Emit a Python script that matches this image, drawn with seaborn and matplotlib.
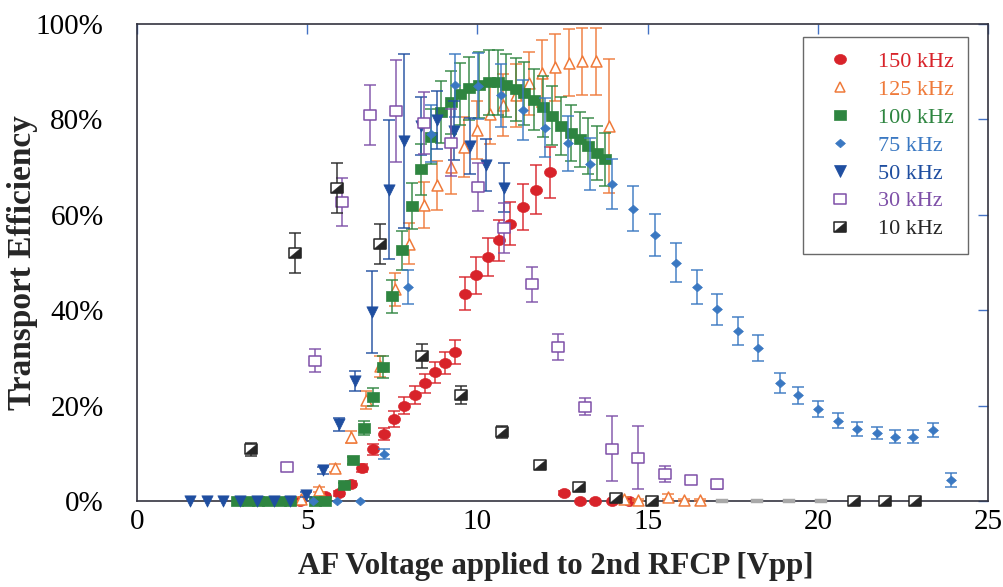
import matplotlib
matplotlib.use("Agg")
import matplotlib.pyplot as plt
import seaborn as sns
import numpy as np
from matplotlib.path import Path
from matplotlib.lines import Line2D

# ---------------- data ----------------
labels = ["150 kHz", "125 kHz", "100 kHz", "75 kHz", "50 kHz", "30 kHz", "10 kHz"]

x150 = [4.80, 5.53, 5.92, 6.28, 6.61, 6.93, 7.25, 7.55, 7.85, 8.16, 8.45, 8.75, 9.06, 9.35,
        9.65, 9.97, 10.30, 10.64, 10.97, 11.34, 11.72, 12.12, 12.54, 13.00, 13.45, 13.94, 14.45]
y150 = [0.0, 1.0, 1.6, 3.6, 6.9, 10.8, 14.0, 17.2, 20.0, 22.3, 24.7, 27.0, 28.9, 31.3,
        43.5, 47.3, 51.2, 54.7, 58.1, 61.6, 65.3, 68.9, 1.7, 0.0, 0.0, 0.0, 0.0]
e150 = [0.0, 0.4, 0.5, 0.6, 0.8, 1.2, 1.3, 1.6, 1.7, 1.9, 2.0, 2.2, 2.3, 2.5,
        3.4, 3.8, 4.0, 4.3, 4.5, 4.8, 5.1, 5.3, 0.5, 0.0, 0.0, 0.0, 0.0]

x125 = [4.81, 5.36, 5.82, 6.29, 6.74, 7.13, 7.59, 8.00, 8.42, 8.81, 9.23, 9.62, 9.99, 10.36,
        10.75, 11.14, 11.51, 11.90, 12.29, 12.69, 13.08, 13.47, 13.86, 14.30, 14.71, 15.60,
        16.07, 16.54]
y125 = [0.4, 2.4, 6.9, 13.4, 21.2, 28.2, 44.4, 53.9, 62.1, 66.2, 70.1, 74.3, 77.8, 81.1,
        83.0, 85.1, 87.6, 89.7, 90.9, 91.9, 92.2, 92.2, 78.6, 0.5, 0.2, 0.9, 0.2, 0.2]
e125 = [0.4, 0.6, 0.8, 1.3, 1.9, 2.3, 3.5, 4.3, 4.8, 5.1, 5.7, 6.3, 6.0, 6.2,
        6.5, 6.6, 6.6, 7.0, 7.0, 7.0, 7.0, 7.0, 14.0, 0.4, 0.3, 0.5, 0.3, 0.3]

x100 = [2.95, 3.25, 3.55, 3.85, 4.20, 4.50, 5.22, 5.52,
        6.07, 6.36, 6.66, 6.93, 7.22, 7.50, 7.78, 8.08, 8.35, 8.64, 8.93, 9.21, 9.48, 9.76,
        10.04, 10.33, 10.60, 10.85, 11.12, 11.38, 11.66, 11.93, 12.20, 12.46, 12.74, 13.00,
        13.26, 13.50, 13.76]
y100 = [0, 0, 0, 0, 0, 0, 0, 0,
        3.3, 8.5, 15.3, 21.8, 28.0, 42.9, 52.6, 61.8, 69.5, 76.4, 81.5, 83.6, 85.3, 86.5,
        87.2, 87.8, 87.8, 87.2, 86.3, 85.5, 84.1, 82.7, 80.8, 78.6, 77.1, 75.8,
        74.4, 73.0, 71.6]
e100 = [0, 0, 0, 0, 0, 0, 0, 0,
        0.5, 0.8, 1.5, 1.9, 2.3, 3.4, 4.1, 4.8, 5.4, 5.8, 6.5, 6.6, 6.5, 6.6,
        7.0, 6.8, 6.8, 6.6, 6.6, 6.6, 6.4, 6.3, 6.2, 6.1, 5.9, 5.8,
        5.8, 5.7, 5.6]

x75 = [5.17, 5.87, 6.56, 7.25, 7.96, 8.65, 9.33, 10.01, 10.68, 11.34, 12.00, 12.66, 13.30,
       13.96, 14.58, 15.21, 15.82, 16.44, 17.05, 17.66, 18.25, 18.88, 19.43, 20.02, 20.58,
       21.15, 21.73, 22.26, 22.81, 23.37, 23.91]
y75 = [0, 0, 0, 9.9, 44.9, 77.0, 87.2, 87.0, 85.1, 81.9, 78.3, 75.0, 70.6,
       66.4, 61.3, 55.8, 50.0, 44.9, 40.2, 35.6, 32.0, 24.8, 22.2, 19.3, 16.8,
       15.1, 14.3, 13.5, 13.5, 14.9, 4.4]
e75 = [0, 0, 0, 1.0, 3.6, 6.0, 6.6, 6.9, 6.6, 6.3, 6.1, 5.8, 5.4,
       5.2, 4.8, 4.4, 4.0, 3.6, 3.2, 2.9, 2.7, 2.1, 1.8, 1.6, 1.6,
       1.4, 1.3, 1.3, 1.3, 1.5, 1.5]

x50 = [1.56, 2.05, 2.54, 3.03, 3.52, 4.01, 4.49, 4.97, 5.45, 5.92, 6.40, 6.90, 7.39, 7.83,
       8.34, 8.81, 9.30, 9.79, 10.26, 10.77]
y50 = [0, 0, 0, 0, 0, 0, 0, 1.3, 6.4, 16.1, 25.2, 39.7, 65.3, 75.5,
       78.6, 79.9, 77.6, 74.4, 70.4, 65.7]
e50 = [0, 0, 0, 0, 0, 0, 0, 0.5, 0.8, 1.4, 2.1, 8.6, 14.5, 18.3,
       6.0, 6.1, 6.2, 5.8, 5.5, 5.1]

x30 = [4.40, 5.22, 6.02, 6.85, 7.62, 8.42, 9.21, 10.01, 10.79, 11.59, 12.37, 13.16, 13.96,
       14.72, 15.50, 16.28, 17.05]
y30 = [7.1, 29.4, 62.7, 80.9, 81.8, 79.3, 75.1, 65.8, 57.2, 45.4, 32.3, 19.8, 11.0,
       9.1, 5.7, 4.4, 3.5]
e30 = [0.4, 2.4, 5.0, 6.3, 10.7, 6.5, 7.0, 5.1, 5.2, 3.6, 2.7, 1.7, 6.8,
       6.6, 1.7, 0.3, 1.0]

x10 = [3.34, 4.63, 5.88, 7.13, 8.37, 9.53, 10.71, 11.83, 12.98, 14.06, 15.14,
       21.07, 21.97, 22.85]
y10 = [10.8, 51.9, 65.6, 53.9, 30.4, 22.2, 14.5, 7.5, 2.9, 0.7, 0,
       0, 0, 0]
e10 = [1.4, 4.2, 5.2, 4.2, 2.6, 1.9, 1.3, 0.0, 0.0, 0.0, 0,
       0, 0, 0]
# faint near-zero marks (grey) seen along the axis
x10_faint = [17.20, 18.20, 19.15, 20.10]
y10_faint = [0, 0, 0, 0]

x_ticks = [0, 5, 10, 15, 20, 25]
y_ticks = [0, 20, 40, 60, 80, 100]
y_tick_labels = ["0%", "20%", "40%", "60%", "80%", "100%"]

colors = ["#D8232A", "#EF7A3A", "#2E8540", "#3A78C2", "#1F4EA0", "#7E50A8", "#262626"]

# ---------------- marker shapes ----------------
t = np.linspace(0, 2 * np.pi, 41)
ellipse = Path(np.column_stack([1.2 * np.cos(t), np.sin(t)]), closed=True)
rect = Path([(-1.25, -1), (1.25, -1), (1.25, 1), (-1.25, 1), (-1.25, -1)], closed=True)
tri_lr = Path([(-1.25, -1), (1.25, -1), (1.25, 1), (-1.25, -1)], closed=True)
diamond = Path([(-1.15, 0), (0, 1), (1.15, 0), (0, -1), (-1.15, 0)], closed=True)
flat = Path([(-1, -0.3), (1, -0.3), (1, 0.3), (-1, 0.3), (-1, -0.3)], closed=True)

sns.set_theme(style="white")
plt.rcParams['font.family'] = ['Liberation Serif', 'DejaVu Serif']

fig = plt.figure(figsize=(10.04, 5.87), dpi=100)
ax = fig.add_axes([137 / 1004, 1 - 501 / 587, (988 - 137) / 1004, (501 - 24) / 587])

series = [
    (x150, y150, e150, dict(marker=ellipse, s=74, filled=True)),
    (x125, y125, e125, dict(marker="^", s=62, filled=False)),
    (x100, y100, e100, dict(marker=rect, s=74, filled=True)),
    (x75, y75, e75, dict(marker=diamond, s=50, filled=True)),
    (x50, y50, e50, dict(marker="v", s=66, filled=True)),
    (x30, y30, e30, dict(marker=rect, s=70, filled=False)),
    (x10, y10, e10, dict(marker=rect, s=70, filled=False)),
]

handles = []
for i, ((xs, ys, es, st), col, lab) in enumerate(zip(series, colors, labels)):
    z = 3 + i
    xs_a, ys_a, es_a = np.array(xs), np.array(ys), np.array(es)
    m = es_a > 0
    ax.errorbar(xs_a[m], ys_a[m], yerr=es_a[m], fmt="none", ecolor=col, alpha=0.85,
                elinewidth=1.2, capsize=4.3, capthick=1.2, zorder=z)
    if st["filled"]:
        sns.scatterplot(x=xs, y=ys, ax=ax, marker=st["marker"], s=st["s"], color=col,
                        edgecolor=col, linewidth=0.5, zorder=z + 0.5, clip_on=False)
        h = Line2D([], [], ls="none", marker=st["marker"], markersize=np.sqrt(st["s"]),
                   markerfacecolor=col, markeredgecolor=col, markeredgewidth=0.5)
    else:
        sns.scatterplot(x=xs, y=ys, ax=ax, marker=st["marker"], s=st["s"], color=col,
                        facecolor="white", edgecolor=col, linewidth=1.1,
                        zorder=z + 0.5, clip_on=False)
        h = Line2D([], [], ls="none", marker=st["marker"], markersize=np.sqrt(st["s"]),
                   markerfacecolor="white", markeredgecolor=col, markeredgewidth=1.1)
    if lab == "10 kHz":
        sns.scatterplot(x=xs, y=ys, ax=ax, marker=tri_lr, s=st["s"], color=col,
                        edgecolor=col, linewidth=0.3, zorder=z + 0.6, clip_on=False)
        sns.scatterplot(x=x10_faint, y=y10_faint, ax=ax, marker=flat, s=64, color="#A8A8A8",
                        edgecolor="#A8A8A8", linewidth=0.3, zorder=z, clip_on=False)
        h2 = Line2D([], [], ls="none", marker=tri_lr, markersize=np.sqrt(st["s"]),
                    markerfacecolor=col, markeredgecolor=col, markeredgewidth=0.3)
        h = (h, h2)
    handles.append(h)

ax.set_xlim(0, 25)
ax.set_ylim(0, 100)
ax.set_xticks(x_ticks)
ax.set_xticklabels([str(v) for v in x_ticks])
ax.set_yticks(y_ticks)
ax.set_yticklabels(y_tick_labels)

ax.tick_params(axis="both", direction="in", length=7.5, width=1.0, color="#4472C4",
               top=True, right=True, labelsize=21, labelcolor="black")
ax.tick_params(axis="y", pad=24)
ax.tick_params(axis="x", pad=6)

for sp in ax.spines.values():
    sp.set_color("#333340")
    sp.set_linewidth(1.2)
    sp.set_visible(True)

ax.set_xlabel("AF Voltage applied to 2nd RFCP [Vpp]", fontsize=22.2, fontweight="bold")
ax.set_ylabel("Transport Efficiency", fontsize=24, fontweight="bold")
ax.xaxis.label.set_va("center")
ax.yaxis.label.set_va("center")
ax.xaxis.set_label_coords(0.492, -0.138)
ax.yaxis.set_label_coords(-0.134, 0.5)

leg = ax.legend(handles=handles, labels=labels, loc="upper right",
                bbox_to_anchor=(0.9765, 0.9727), borderaxespad=0, frameon=True,
                fancybox=False, fontsize=16, borderpad=0.65, handlelength=2.04,
                handletextpad=0.69, labelspacing=0.33)
leg.get_frame().set_edgecolor("#444444")
leg.get_frame().set_linewidth(1.0)
for txt, col in zip(leg.get_texts(), colors):
    txt.set_color(col)

fig.savefig("out.png", dpi=100)
